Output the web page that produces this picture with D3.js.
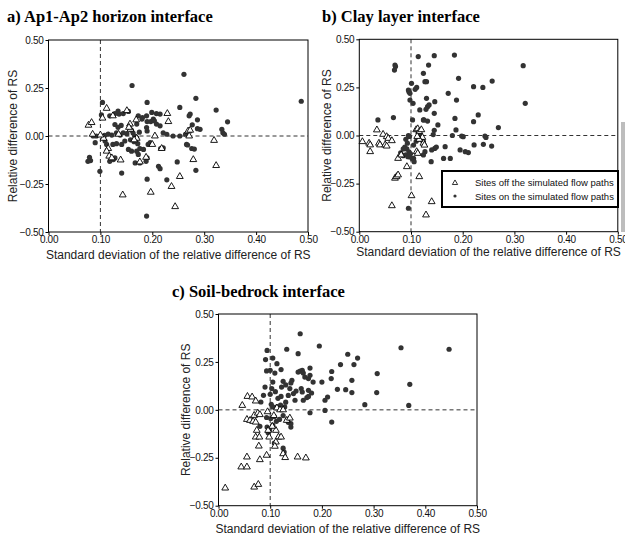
<!DOCTYPE html>
<html>
<head>
<meta charset="utf-8">
<script src="https://cdn.jsdelivr.net/npm/d3@7"></script>
<style>
  body { margin: 0; background: #fff; }
  svg { display: block; }
</style>
</head>
<body>
<svg id="mainSvg" width="625" height="539"></svg>
<script>
// ---- data: [sd of relative difference, relative difference]
var xTicks = [0, 0.1, 0.2, 0.3, 0.4, 0.5];
var yTicks = [-0.5, -0.25, 0, 0.25, 0.5];
var legendLabels = ["Sites  off the simulated flow paths", "Sites  on the simulated flow paths"];

var apOn = [[.261,.321],[.161,.263],[.190,.175],[.104,.175],[.102,.11],[.136,.114],[.144,.117],[.154,.128],[.181,.096],[.208,.117],
  [.215,.114],[.253,.149],[.190,.075],[.197,.075],[.204,.079],[.170,.062],[.189,.044],[.190,.026],[.208,.062],[.215,.053],
  [.221,.017],[.228,.009],[.240,0],[.253,0],[.264,.009],[.160,.03],[.163,.015],[.166,0],[.170,-.01],[.158,-.02],
  [.165,-.03],[.172,-.04],[.175,.02],[.168,-.015],[.151,.012],[.144,.017],[.138,.005],[.131,.017],[.122,.005],[.115,.01],
  [.108,.003],[.092,0],[.086,0],[.090,-.035],[.109,-.026],[.112,-.044],[.124,-.044],[.131,-.040],[.141,-.044],[.147,-.026],
  [.154,-.070],[.160,-.079],[.170,-.079],[.173,-.096],[.176,-.065],[.183,-.070],[.192,-.044],[.196,-.035],[.079,-.111],[.081,-.128],
  [.076,-.132],[.118,-.132],[.125,-.123],[.128,-.114],[.167,-.14],[.176,-.14],[.190,-.114],[.188,-.132],[.212,-.158],[.215,-.170],
  [.248,-.135],[.141,-.193],[.099,-.184],[.190,-.225],[.228,-.228],[.189,-.417],[.216,-.065],[.221,-.062],[.266,-.044],[.284,.196],
  [.323,.135],[.487,.181],[.273,.114],[.271,.105],[.287,.084],[.277,.058],[.287,.038],[.292,.035],[.345,.074],[.334,.035],
  [.336,.017],[.339,.009],[.268,-.047],[.276,-.065],[.281,-.068],[.284,-.179],[.118,.105],[.128,.117],[.134,.13],[.173,.105],
  [.180,.088],[.189,.105],[.199,.123],[.202,.088],[.128,.06],[.134,.045],[.140,.055]];
var apOff = [[.112,.144],[.104,.093],[.124,.105],[.151,.132],[.229,.117],[.231,.075],[.077,.056],[.083,.070],[.157,.062],[.158,.035],
  [.169,.084],[.085,.009],[.106,-.012],[.135,.009],[.170,-.012],[.205,0],[.269,.026],[.271,0],[.115,-.065],[.112,-.079],
  [.117,-.105],[.122,-.114],[.139,-.125],[.176,-.135],[.200,-.044],[.218,-.065],[.188,-.111],[.253,-.211],[.237,-.263],[.197,-.293],
  [.143,-.307],[.244,-.368],[.273,.030],[.319,-.023],[.279,-.123],[.323,-.154],[.155,.045],[.165,-.02],[.100,.005]];

var clayOn = [[.114,.41],[.145,.415],[.184,.418],[.069,.366],[.070,.358],[.068,.34],[.134,.366],[.124,.323],[.127,.28],[.130,.28],
  [.192,.297],[.221,.254],[.111,.25],[.108,.24],[.101,.271],[.172,.219],[.096,.228],[.098,.219],[.095,.236],[.130,.193],
  [.188,.184],[.146,.176],[.098,.184],[.104,.167],[.132,.15],[.135,.159],[.129,.136],[.117,.133],[.145,.115],[.036,.081],
  [.066,.093],[.103,.081],[.124,.081],[.132,.075],[.152,.055],[.185,.089],[.221,.072],[.230,.107],[.187,.029],[.180,0],
  [.201,-.006],[.145,.027],[.143,.005],[.090,-.02],[.093,-.04],[.088,-.06],[.092,-.07],[.096,-.085],[.099,-.095],[.090,-.1],
  [.094,-.11],[.085,-.105],[.097,-.11],[.102,-.12],[.080,-.09],[.085,-.07],[.095,0],[.097,-.005],[.110,-.03],[.105,-.05],
  [.111,.029],[.117,.003],[.121,-.023],[.124,-.032],[.166,-.058],[.146,-.067],[.140,-.075],[.127,-.084],[.124,-.101],[.139,-.136],
  [.163,-.119],[.176,-.119],[.195,-.075],[.205,-.084],[.211,-.089],[.222,-.049],[.105,-.119],[.106,-.136],[.095,-.378],[.317,.363],
  [.321,.167],[.257,.283],[.239,.25],[.269,.041],[.243,-.003],[.245,-.01],[.256,-.055],[.240,-.046],[.198,-.003],[.149,-.06],
  [.125,.081]];
var clayOff = [[.034,.029],[.046,.006],[.053,-.006],[.056,-.015],[.063,-.027],[.006,-.032],[.019,-.04],[.021,-.049],[.038,-.04],[.040,-.049],
  [.050,-.049],[.053,-.055],[.021,-.084],[.110,.03],[.113,.035],[.116,.02],[.120,.03],[.122,-.01],[.124,-.04],[.126,-.05],
  [.116,-.02],[.112,-.005],[.075,-.119],[.081,-.101],[.092,-.162],[.111,-.084],[.113,-.093],[.069,-.222],[.072,-.214],[.075,-.205],
  [.116,-.214],[.101,-.313],[.140,-.344],[.063,-.365],[.129,-.413]];

var rockOn = [[.158,.397],[.195,.333],[.094,.31],[.132,.316],[.154,.293],[.091,.262],[.105,.27],[.113,.241],[.093,.203],[.100,.206],
  [.109,.192],[.121,.21],[.154,.197],[.158,.202],[.162,.206],[.164,.192],[.177,.218],[.219,.2],[.218,.163],[.167,.171],
  [.174,.163],[.177,.18],[.183,.145],[.200,.145],[.125,.149],[.105,.145],[.142,.154],[.090,.119],[.103,.111],[.122,.119],
  [.138,.111],[.150,.098],[.160,.111],[.162,.093],[.174,.102],[.180,.088],[.087,.076],[.100,.081],[.121,.07],[.148,.05],
  [.164,.05],[.171,.064],[.174,.07],[.206,.05],[.211,.067],[.082,.041],[.102,.029],[.105,.015],[.113,.015],[.128,.015],
  [.177,-.015],[.206,-.003],[.219,-.064],[.140,-.09],[.140,-.072],[.080,-.086],[.094,-.09],[.099,-.105],[.096,-.12],[.125,-.2],
  [.127,-.22],[.108,-.173],[.093,-.04],[.101,-.045],[.108,-.035],[.353,.324],[.446,.316],[.250,.29],[.269,.27],[.236,.236],
  [.262,.236],[.307,.189],[.258,.154],[.370,.133],[.23,.107],[.246,.105],[.258,.09],[.306,.09],[.283,.027],[.368,.023],
  [.115,.06],[.13,.04],[.12,.025],[.135,.075],[.145,.085],[.11,.095],[.13,.13],[.14,.14],[.118,-.05],[.125,-.03],
  [.133,-.05],[.135,-.065],[.112,-.06],[.105,-.08]];
var rockOff = [[.056,.07],[.065,.067],[.046,.023],[.072,.046],[.113,.01],[.119,0],[.125,0],[.069,-.029],[.076,-.017],[.080,-.025],
  [.055,-.05],[.061,-.055],[.067,-.06],[.072,-.064],[.074,-.107],[.072,-.142],[.079,-.142],[.078,-.189],[.098,-.142],[.096,-.107],
  [.111,-.107],[.116,-.142],[.121,-.142],[.111,-.168],[.109,-.19],[.132,-.055],[.138,-.043],[.104,-.086],[.125,-.229],[.129,-.249],
  [.093,-.237],[.080,-.26],[.055,-.246],[.044,-.298],[.055,-.298],[.153,-.246],[.169,-.251],[.013,-.408],[.069,-.403],[.077,-.389],
  [.107,-.03],[.095,-.01]];

var svg = d3.select("#mainSvg");
var fmt = d3.format(".2f");
var triangle = d3.symbol().type(d3.symbolTriangle).size(20);

// small grey strip at the right edge of the scanned figure
svg.append("rect").attr("x",621).attr("y",122).attr("width",4).attr("height",110).attr("fill","#bdbdbd");

function drawPanel(p){
    var x = d3.scaleLinear().domain([0,0.5]).range([p.left, p.left + p.w]);
    var y = d3.scaleLinear().domain([-0.5,0.5]).range([p.top + p.h, p.top]);
    var g = svg.append("g").attr("class","panel");

    g.append("text")
     .attr("x",p.titleX).attr("y",p.titleY)
     .attr("font-family","'Liberation Serif','Times New Roman',serif")
     .attr("font-weight","bold").attr("font-size","16.5px")
     .attr("fill","#000")
     .text(p.title);

    // axes
    var yAxis = g.append("g").attr("transform","translate(" + p.left + ",0)")
        .call(d3.axisLeft(y).tickValues(yTicks).tickFormat(fmt).tickSize(3).tickPadding(2));
    var xAxis = g.append("g").attr("transform","translate(0," + (p.top + p.h) + ")")
        .call(d3.axisBottom(x).tickValues(xTicks).tickFormat(fmt).tickSize(3).tickPadding(1));
    [yAxis, xAxis].forEach(function(a){
        a.select(".domain").remove();
        a.selectAll("line").attr("stroke","#000");
        a.selectAll("text").attr("font-family","'Liberation Sans',Arial,sans-serif")
         .attr("font-size","10px").attr("fill","#111").attr("letter-spacing","-0.3px");
    });

    // dashed reference lines
    g.append("line").attr("x1",x(0.1)).attr("x2",x(0.1)).attr("y1",p.top).attr("y2",p.top + p.h)
     .attr("stroke","#333").attr("stroke-dasharray","4,3");
    g.append("line").attr("x1",p.left).attr("x2",p.left + p.w).attr("y1",y(0)).attr("y2",y(0))
     .attr("stroke","#333").attr("stroke-dasharray","4,3");

    g.append("rect").attr("x",p.left).attr("y",p.top).attr("width",p.w).attr("height",p.h)
     .attr("fill","none").attr("stroke","#000").attr("stroke-width",1);

    g.selectAll(".onSite").data(p.on).enter().append("circle")
     .attr("cx",function(d){ return x(d[0]); })
     .attr("cy",function(d){ return y(d[1]); })
     .attr("r",2.6).attr("fill","#333");

    g.selectAll(".offSite").data(p.off).enter().append("path")
     .attr("d",triangle)
     .attr("transform",function(d){ return "translate(" + x(d[0]) + "," + y(d[1]) + ")"; })
     .attr("fill","#fff").attr("stroke","#000").attr("stroke-width",0.9);

    // axis titles
    g.append("text")
     .attr("x",p.left + p.w/2).attr("y",p.xLabY)
     .attr("text-anchor","middle")
     .attr("font-family","'Liberation Sans',Arial,sans-serif").attr("font-size","12px").attr("fill","#222")
     .text("Standard deviation of the relative difference of RS");
    g.append("text")
     .attr("transform","translate(" + p.yLabX + "," + (p.top + p.h/2) + ") rotate(-90)")
     .attr("text-anchor","middle")
     .attr("font-family","'Liberation Sans',Arial,sans-serif").attr("font-size","12px").attr("fill","#222")
     .text("Relative difference of RS");
    return {x:x, y:y};
}

drawPanel({title:"a) Ap1-Ap2 horizon interface", titleX:7, titleY:22, left:48.5, top:40, w:259.5, h:192,
           xLabY:259, yLabX:17, on:apOn, off:apOff});
drawPanel({title:"b) Clay layer interface", titleX:322, titleY:22, left:359.3, top:39.3, w:258.5, h:192.4,
           xLabY:256, yLabX:331, on:clayOn, off:clayOff});
drawPanel({title:"c) Soil-bedrock interface", titleX:172, titleY:297, left:218.5, top:314, w:258.5, h:191.7,
           xLabY:533, yLabX:190, on:rockOn, off:rockOff});

// legend of panel b
var legendG = svg.append("g").attr("class","legend");
legendG.append("rect").attr("x",442).attr("y",171).attr("width",176).attr("height",36)
  .attr("fill","#fff").attr("stroke","#000").attr("stroke-width",2);
legendG.append("path").attr("d",d3.symbol().type(d3.symbolTriangle).size(12))
  .attr("transform","translate(455,183)").attr("fill","#fff").attr("stroke","#000").attr("stroke-width",0.8);
legendG.append("circle").attr("cx",455).attr("cy",196).attr("r",1.6).attr("fill","#333");
legendG.selectAll(".legLabel").data(legendLabels).enter().append("text")
  .attr("x",475).attr("y",function(d,i){ return 186 + i*13.5; })
  .attr("font-family","'Liberation Sans',Arial,sans-serif").attr("font-size","9.5px")
  .attr("fill","#111")
  .text(function(d){ return d; });
</script>
</body>
</html>
